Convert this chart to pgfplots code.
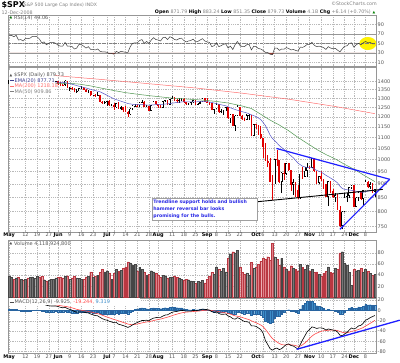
\documentclass[border=0pt]{standalone}
\usepackage{pgfplots}
\pgfplotsset{compat=1.18}
\usepackage{pgfplotstable}
\usepackage{fontspec}
\setmainfont{DejaVu Sans}

\definecolor{cred}{RGB}{225,0,0}
\definecolor{volred}{RGB}{224,130,138}
\definecolor{volredE}{RGB}{185,55,65}
\definecolor{volgray}{RGB}{118,118,118}
\definecolor{volgrayE}{RGB}{70,70,70}
\definecolor{emac}{RGB}{85,85,200}
\definecolor{mafc}{RGB}{80,150,80}
\definecolor{matc}{RGB}{255,110,110}
\definecolor{histblue}{RGB}{60,140,200}
\definecolor{histblueE}{RGB}{40,100,160}
\definecolor{sigred}{RGB}{255,70,70}
\definecolor{trendblue}{RGB}{30,30,255}
\definecolor{gridc}{RGB}{185,185,185}
\definecolor{framec}{RGB}{150,150,150}
\definecolor{labc}{RGB}{85,85,85}
\definecolor{rsifill}{RGB}{150,60,50}
\definecolor{rsiline}{RGB}{60,60,60}
\definecolor{boxblue}{RGB}{40,40,230}

\pgfplotstableread{
i o h l c v
0 1386 1411 1383 1409 38
1 1409 1422 1406 1414 36
2 1414 1415 1402 1407 33
3 1407 1421 1401 1418 35
4 1418 1420 1391 1393 36
5 1393 1404 1389 1398 33
6 1398 1398 1382 1388 31
7 1388 1404 1384 1404 33
8 1404 1410 1396 1403 35
9 1403 1420 1401 1409 36
10 1409 1425 1402 1424 37
11 1424 1429 1418 1425 34
12 1425 1440 1414 1427 38
13 1427 1427 1401 1413 37
14 1413 1419 1388 1391 38
15 1391 1400 1385 1394 32
16 1394 1394 1374 1376 30
17 1376 1387 1373 1385 31
18 1385 1393 1379 1391 33
19 1391 1406 1388 1398 33
20 1398 1404 1396 1400 35
21 1400 1400 1377 1386 36
22 1386 1394 1370 1378 37
23 1378 1386 1370 1377 35
24 1377 1405 1374 1404 38
25 1404 1404 1359 1361 39
26 1361 1366 1345 1362 33
27 1362 1366 1351 1358 35
28 1358 1361 1334 1335 38
29 1335 1353 1331 1340 35
30 1340 1361 1340 1360 34
31 1360 1370 1355 1360 33
32 1360 1367 1350 1351 33
33 1351 1354 1335 1338 37
34 1338 1348 1330 1343 38
35 1343 1343 1314 1318 46
36 1318 1322 1312 1318 36
37 1318 1326 1309 1314 38
38 1314 1336 1314 1322 40
39 1322 1322 1283 1283 45
40 1283 1288 1272 1278 50
41 1278 1285 1272 1280 46
42 1280 1285 1260 1285 48
43 1285 1292 1261 1262 44
44 1262 1272 1257 1263 33
45 1263 1273 1239 1252 43
46 1252 1274 1250 1274 50
47 1274 1278 1245 1245 47
48 1245 1257 1237 1253 49
49 1253 1254 1225 1239 52
50 1239 1257 1226 1228 55
51 1228 1234 1200 1215 64
52 1215 1246 1211 1245 62
53 1245 1263 1237 1260 58
54 1260 1268 1255 1261 60
55 1261 1267 1255 1260 48
56 1260 1280 1254 1277 54
57 1277 1291 1276 1282 50
58 1282 1284 1251 1253 46
59 1253 1263 1251 1258 40
60 1258 1260 1234 1234 42
61 1234 1264 1234 1263 48
62 1263 1285 1262 1284 46
63 1284 1284 1265 1267 44
64 1267 1270 1248 1260 40
65 1260 1263 1247 1249 36
66 1249 1285 1249 1285 40
67 1285 1292 1281 1289 38
68 1289 1290 1264 1266 35
69 1266 1297 1263 1296 36
70 1296 1314 1296 1305 37
71 1305 1306 1288 1290 38
72 1290 1295 1276 1286 36
73 1286 1300 1276 1293 35
74 1293 1300 1286 1298 33
75 1298 1304 1275 1279 31
76 1279 1281 1265 1267 33
77 1267 1277 1266 1275 32
78 1275 1281 1264 1278 30
79 1278 1293 1277 1292 29
80 1292 1292 1263 1267 25
81 1267 1275 1263 1272 29
82 1272 1286 1270 1282 28
83 1282 1301 1282 1301 31
84 1301 1301 1282 1283 26
85 1283 1303 1273 1278 33
86 1278 1281 1266 1275 38
87 1275 1275 1236 1237 45
88 1237 1244 1217 1242 42
89 1242 1275 1242 1268 55
90 1268 1268 1224 1225 50
91 1225 1243 1221 1232 47
92 1232 1249 1212 1249 52
93 1249 1255 1233 1252 46
94 1252 1252 1192 1193 70
95 1193 1214 1169 1214 78
96 1214 1214 1156 1156 82
97 1156 1211 1133 1207 80
98 1207 1265 1207 1255 85
99 1255 1255 1207 1207 55
100 1207 1211 1187 1188 45
101 1188 1197 1180 1186 42
102 1186 1216 1186 1209 44
103 1209 1215 1187 1213 40
104 1213 1213 1106 1106 63
105 1106 1167 1106 1166 52
106 1166 1167 1141 1161 55
107 1161 1161 1112 1114 60
108 1114 1153 1092 1099 65
109 1099 1099 1007 1057 70
110 1057 1072 996 996 68
111 996 1022 968 985 73
112 985 1006 909 910 67
113 910 936 840 899 97
114 899 1004 899 1003 72
115 1003 1044 972 998 68
116 998 998 903 908 58
117 908 947 866 946 70
118 946 984 918 941 55
119 941 985 938 985 50
120 985 985 952 955 48
121 955 955 875 897 57
122 897 922 858 908 52
123 908 908 853 877 51
124 877 896 845 849 48
125 849 941 845 941 60
126 941 969 922 930 54
127 930 970 930 954 50
128 954 984 928 969 58
129 969 975 959 966 48
130 966 1008 966 1006 50
131 1006 1006 949 953 45
132 953 953 899 905 46
133 905 931 899 931 42
134 931 951 913 919 38
135 919 919 883 899 43
136 899 899 852 852 47
137 852 913 819 911 55
138 911 911 866 873 45
139 873 882 848 851 44
140 851 866 835 859 52
141 859 864 806 807 50
142 807 820 748 752 80
143 752 801 741 800 82
144 800 865 800 852 62
145 852 868 834 857 58
146 857 888 848 888 45
147 888 896 882 896 22
148 896 896 815 816 50
149 816 850 816 849 48
150 849 875 837 871 49
151 871 875 840 845 52
152 845 879 818 876 45
153 876 918 876 910 50
154 910 912 884 889 47
155 889 908 883 899 43
156 899 904 866 874 40
157 872 883 851 880 41
}\spx

\pgfplotstableread{
i r
0 66
1 67
2 64
3 67
4 57
5 58
6 55
7 60
8 60
9 61
10 65
11 65
12 64
13 59
14 51
15 53
16 47
17 50
18 52
19 52
20 50
21 46
22 44
23 44
24 52
25 44
26 44
27 43
28 38
29 40
30 48
31 47
32 44
33 40
34 43
35 37
36 37
37 36
38 38
39 33
40 32
41 32
42 31
43 28
44 28.5
45 27
46 33
47 30.5
48 33
49 32
50 31
51 31
52 43
53 50
54 51
55 51
56 56
57 58
58 50
59 54
60 50
61 57
62 62
63 58
64 57
65 55
66 62
67 63
68 58
69 64
70 62
71 58
72 57
73 60
74 61
75 56
76 53
77 55
78 56
79 59
80 53
81 54
82 57
83 60
84 55
85 53
86 52
87 43
88 45
89 51
90 43
91 45
92 48
93 49
94 40
95 44
96 37
97 47
98 54
99 46
100 43
101 43
102 47
103 48
104 36
105 44
106 43
107 39
108 38
109 35
110 31
111 30.5
112 27
113 26
114 40
115 40
116 35
117 38
118 37.5
119 41
120 39
121 36
122 37
123 35
124 33.5
125 42
126 41.5
127 44
128 48
129 48
130 52
131 46
132 43
133 44
134 43
135 41
136 37
137 43
138 40
139 38.5
140 39.5
141 35.5
142 32
143 38
144 44
145 44.5
146 50
147 51
148 42
149 47
150 50
151 47
152 51
153 54
154 51
155 52
156 49
157 49.06
}\rsi

\pgfplotstableread{
i m s
0 17 15
1 17.5 15.5
2 17.5 15.9
3 18 16.3
4 16.5 16.3
5 15.5 16.2
6 14 15.7
7 14 15.4
8 14 15.1
9 14 14.9
10 15 14.9
11 15.5 15.0
12 16 15.2
13 15 15.2
14 13 14.8
15 12 14.2
16 10 13.4
17 9 12.5
18 8.5 11.7
19 8.5 11.1
20 8.5 10.6
21 7.5 10.0
22 6 9.2
23 5 8.4
24 6 7.9
25 3.5 7.0
26 2 6.0
27 0.5 4.9
28 -2 3.5
29 -3.5 2.1
30 -3 1.1
31 -3 0.3
32 -3.5 -0.5
33 -4.5 -1.3
34 -5 -2.0
35 -7 -3.0
36 -8.5 -4.1
37 -10 -5.3
38 -10.5 -6.3
39 -13.5 -7.7
40 -16 -9.4
41 -18 -11.1
42 -19 -12.7
43 -21 -14.4
44 -22.5 -16.0
45 -24 -17.6
46 -23.5 -18.8
47 -27 -20.4
48 -28 -21.9
49 -29.5 -23.4
50 -31 -24.9
51 -33 -26.5
52 -31 -27.4
53 -28 -27.5
54 -25.5 -27.1
55 -23.5 -26.4
56 -21.5 -25.4
57 -19.5 -24.2
58 -19.5 -23.3
59 -19 -22.4
60 -20 -21.9
61 -17 -20.9
62 -15 -19.7
63 -14 -18.6
64 -13.5 -17.6
65 -13.5 -16.8
66 -11 -15.6
67 -9 -14.3
68 -8.5 -13.1
69 -6 -11.7
70 -3.5 -10.1
71 -2.5 -8.6
72 -2 -7.3
73 -1 -6.0
74 0 -4.8
75 -0.5 -3.9
76 -1.5 -3.4
77 -1.5 -3.0
78 -1.5 -2.7
79 0 -2.2
80 -0.5 -1.8
81 0 -1.5
82 1 -1.0
83 2.5 -0.3
84 2 0.2
85 1.5 0.4
86 0.5 0.4
87 -2.5 -0.2
88 -4 -1.0
89 -3 -1.4
90 -6 -2.3
91 -7.5 -3.4
92 -7.5 -4.2
93 -7 -4.8
94 -11 -6.0
95 -12.5 -7.3
96 -16 -9.0
97 -17 -10.6
98 -14 -11.3
99 -16 -12.2
100 -19 -13.6
101 -21.5 -15.2
102 -22 -16.6
103 -23 -17.8
104 -30 -20.2
105 -30 -22.2
106 -31 -24.0
107 -34 -26.0
108 -37 -28.2
109 -44 -31.3
110 -58 -36.7
111 -66 -42.5
112 -74 -48.8
113 -77 -54.4
114 -74 -58.3
115 -73 -61.2
116 -76 -64.2
117 -74 -66.2
118 -70 -66.9
119 -66 -66.7
120 -65 -66.4
121 -68 -66.7
122 -69 -67.2
123 -72 -68.2
124 -75 -69.6
125 -66 -68.9
126 -57 -66.5
127 -49 -63.0
128 -41 -58.6
129 -37 -54.3
130 -32 -49.8
131 -33 -46.5
132 -35 -44.2
133 -34 -42.2
134 -34 -40.5
135 -35 -39.4
136 -38 -39.1
137 -36 -38.5
138 -37 -38.2
139 -38 -38.2
140 -39 -38.4
141 -42 -39.1
142 -48 -40.9
143 -49 -42.5
144 -46 -43.2
145 -43 -43.2
146 -38 -42.2
147 -34 -40.5
148 -36 -39.6
149 -34 -38.5
150 -30 -36.8
151 -29 -35.2
152 -25 -33.2
153 -19 -30.4
154 -17 -27.7
155 -14 -25.0
156 -12 -22.4
157 -9.925 -19.244
}\macd

\pgfplotstableread{
i e
0 1378
3 1385
6 1388
9 1392
12 1398
15 1398
18 1396
21 1394
24 1392
27 1382
30 1370
33 1360
36 1348
39 1338
42 1318
45 1298
48 1285
51 1272
54 1266
57 1266
60 1263
63 1266
66 1268
69 1272
72 1278
75 1282
78 1281
81 1282
84 1284
87 1278
90 1268
93 1260
96 1244
99 1232
102 1222
104 1212
106 1203
108 1188
110 1158
112 1112
113 1095
114 1085
116 1062
118 1045
120 1025
122 1008
124 985
126 972
128 966
130 966
132 955
134 948
136 935
138 924
140 912
141 905
142 892
143 884
144 880
146 878
148 875
150 871
152 869
154 874
156 876
157 877.7
}\ema

\pgfplotstableread{
i a
20 1385
25 1388
30 1383
35 1372
40 1358
45 1345
50 1333
55 1324
60 1316
65 1309
70 1302
75 1298
82 1292
88 1285
94 1275
100 1259
104 1245
108 1215
110 1200
112 1185
116 1160
120 1132
124 1100
128 1072
132 1045
136 1022
140 1003
144 980
148 960
152 937
157 910
}\mafifty

\pgfplotstableread{
i a
0 1452
20 1434
40 1410
60 1385
80 1360
100 1330
120 1296
140 1256
157 1218
}\matwo

% trend lines (price panel)
\pgfplotstableread{
i p
114.8 1049
163.4 919
}\trendA
\pgfplotstableread{
i p
142 741.8
163.4 919
}\trendB
\pgfplotstableread{
i p
106.4 834.6
160.4 880
}\trendC

\newcommand{\lab}{\fontsize{5}{6}\selectfont}
\pgfplotsset{
  panel/.style={
    scale only axis, width=368bp, xmin=-0.5, xmax=157.5,
    anchor=south west,
    axis line style={draw=framec, line width=0.5bp},
    major tick length=0pt, minor tick length=0pt,
    xtick={0,7,12,17,21,26,31,36,42,45,50,55,60,64,70,75,80,85,89,94,99,106,109,114,119,124,129,134,139,144,148,153},
    xticklabel={\mbox{}},
    xmajorgrids, ymajorgrids,
    grid style={gridc, line width=0.4bp, dash pattern=on 0.6bp off 1.2bp},
    yticklabel pos=right,
    yticklabel style={font=\lab, text=labc, inner sep=1.5bp},
    /pgf/number format/assume math mode=true,
  },
  datelabels/.style={
    xticklabels={\textcolor{black}{\textbf{May}},12,19,27,\textcolor{black}{\textbf{Jun}},9,16,23,\textcolor{black}{\textbf{Jul}},7,14,21,28,\textcolor{black}{\textbf{Aug}},11,18,25,\textcolor{black}{\textbf{Sep}},8,15,22,\textcolor{black}{\textbf{Oct}},6,13,20,27,\textcolor{black}{\textbf{Nov}},10,17,24,\textcolor{black}{\textbf{Dec}},8},
    xticklabel style={font=\lab, text=labc, inner sep=1bp},
  },
  redday/.style={x filter/.expression={\thisrow{c}<\thisrow{o} ? x : nan}},
  blackday/.style={x filter/.expression={\thisrow{c}<\thisrow{o} ? nan : x}},
  candle/.style={draw=none, mark=none, forget plot},
}

\begin{document}
\begin{tikzpicture}[x=1bp,y=1bp]
\path[use as bounding box] (0,0) rectangle (400,363);
\coordinate (rsiSW) at (8,297);
\coordinate (pxSW) at (8,131);
\coordinate (volSW) at (8,65.5);
\coordinate (macdSW) at (8,9.5);

% ---------- RSI ----------
\begin{axis}[panel, at={(rsiSW)}, height=51bp, ymin=2, ymax=110,
  ytick={10,30,50,70,90}, yticklabels={10,30,50,70,90}]
\fill[yellow] (axis cs:154,49.6) ellipse [x radius=8.5bp, y radius=6.5bp];
\draw[framec, line width=0.5bp] (axis cs:-0.5,70) -- (axis cs:157.5,70);
\draw[framec, line width=0.5bp] (axis cs:-0.5,30) -- (axis cs:157.5,30);
\draw[gray, line width=0.4bp, dash pattern=on 3bp off 1bp on 0.6bp off 1bp] (axis cs:-0.5,50) -- (axis cs:157.5,50);
\addplot[fill=rsifill, draw=none] table[x=i, y expr={min(\thisrow{r},30)}] {\rsi} -- (axis cs:157,30) -- (axis cs:0,30) -- cycle;
\addplot[rsiline, line width=0.5bp] table[x=i, y=r] {\rsi};
\end{axis}

% ---------- Price (log scale: y = ln(price)) ----------
\begin{axis}[panel, datelabels, at={(pxSW)}, height=165bp, ymin=6.59715, ymax=7.30519,
  ytick={6.62007,6.68461,6.74524,6.80239,6.85646,6.90776,6.95655,7.00307,7.04752,7.09008,7.13090,7.17012,7.20786,7.24423},
  yticklabels={750,800,850,900,950,1000,1050,1100,1150,1200,1250,1300,1350,1400},
  clip=false]
% wicks
\addplot[candle, redday,
  error bars/.cd, y dir=plus, y explicit, error mark=none,
  error bar style={draw=cred, line width=0.5bp}]
  table[x=i, y expr={ln(\thisrow{l})}, y error plus expr={ln(\thisrow{h})-ln(\thisrow{l})}] {\spx};
\addplot[candle, blackday,
  error bars/.cd, y dir=plus, y explicit, error mark=none,
  error bar style={draw=black, line width=0.5bp}]
  table[x=i, y expr={ln(\thisrow{l})}, y error plus expr={ln(\thisrow{h})-ln(\thisrow{l})}] {\spx};
% bodies: red filled
\addplot[candle, redday,
  error bars/.cd, y dir=plus, y explicit, error mark=none,
  error bar style={draw=cred, line width=1.7bp}]
  table[x=i, y expr={ln(\thisrow{c})}, y error plus expr={ln(\thisrow{o})-ln(\thisrow{c})}] {\spx};
% bodies: black hollow
\addplot[candle, blackday,
  error bars/.cd, y dir=plus, y explicit, error mark=none,
  error bar style={draw=black, line width=1.7bp}]
  table[x=i, y expr={ln(\thisrow{o})}, y error plus expr={ln(\thisrow{c})-ln(\thisrow{o})}] {\spx};
\addplot[candle,
  x filter/.expression={\thisrow{c}>\thisrow{o}*1.008 ? x : nan},
  error bars/.cd, y dir=plus, y explicit, error mark=none,
  error bar style={draw=white, line width=0.8bp}]
  table[x=i, y expr={ln(\thisrow{o})+0.003}, y error plus expr={ln(\thisrow{c})-ln(\thisrow{o})-0.006}] {\spx};
% moving averages
\addplot[matc, line width=0.5bp] table[x=i, y expr={ln(\thisrow{a})}] {\matwo};
\addplot[mafc, line width=0.5bp] table[x=i, y expr={ln(\thisrow{a})}] {\mafifty};
\addplot[emac, line width=0.5bp] table[x=i, y expr={ln(\thisrow{e})}] {\ema};
% trend lines
\addplot[trendblue, line width=1.2bp] table[x=i, y expr={ln(\thisrow{p})}] {\trendA};
\addplot[trendblue, line width=1.2bp] table[x=i, y expr={ln(\thisrow{p})}] {\trendB};
\addplot[black, line width=0.9bp] table[x=i, y expr={ln(\thisrow{p})}] {\trendC};
\end{axis}

% ---------- Volume ----------
\begin{axis}[panel, at={(volSW)}, height=57.5bp, ymin=0, ymax=103,
  ytick={20,40,60,80}, yticklabels={20,40,60,80}]
\addplot[ybar, bar shift=0pt, bar width=1.9bp, fill=volred, draw=volredE, line width=0.25bp, redday]
  table[x=i, y=v] {\spx};
\addplot[ybar, bar shift=0pt, bar width=1.9bp, fill=volgray, draw=volgrayE, line width=0.25bp, blackday]
  table[x=i, y=v] {\spx};
\end{axis}

% ---------- MACD ----------
\begin{axis}[panel, datelabels, at={(macdSW)}, height=55.5bp, ymin=-83.5, ymax=24,
  ytick={-80,-60,-40,-20,0,20}, yticklabels={-80,-60,-40,-20,0,20}, clip=false]
\addplot[ybar, bar shift=0pt, bar width=1.8bp, fill=histblue, draw=histblueE, line width=0.2bp]
  table[x=i, y expr={\thisrow{m}-\thisrow{s}}] {\macd};
\addplot[sigred, line width=0.6bp] table[x=i, y=s] {\macd};
\addplot[black, line width=0.6bp] table[x=i, y=m] {\macd};
\addplot[trendblue, line width=1.3bp] coordinates {(123.4,-75.4) (167.7,-19)};
\end{axis}

% ---------- header ----------
\node[anchor=west, font=\fontsize{8}{9}\selectfont\bfseries, inner sep=0] at (1.5,357.5) {\$SPX};
\node[anchor=west, font=\fontsize{4.6}{5}\selectfont, text=gray, inner sep=0] at (22,357.5) {(S\&P 500 Large Cap Index) INDX};
\node[anchor=west, font=\fontsize{4.8}{5}\selectfont, text=gray, inner sep=0] at (1.5,350.5) {12-Dec-2008};
\node[anchor=east, font=\fontsize{4.8}{5}\selectfont, text=gray, inner sep=0] at (371,350.5)
  {\textcolor{black}{\textbf{Open}} 871.79 \textcolor{black}{\textbf{High}} 883.24 \textcolor{black}{\textbf{Low}} 851.35 \textcolor{black}{\textbf{Close}} 879.73 \textcolor{black}{\textbf{Volume}} 4.1B \textcolor{black}{\textbf{Chg}} +6.14 (+0.70\%)};
\node[anchor=west, font=\fontsize{3.5}{4}\selectfont, text=green!50!black, inner sep=0] at (372.5,350.8) {▲};
\node[anchor=east, font=\fontsize{4.8}{5}\selectfont, text=gray, inner sep=0] at (377,359) {©StockCharts.com};

% RSI label
\node[anchor=west, font=\fontsize{3.5}{4}\selectfont, text=green!40!black, inner sep=0] at (9.5,345.5) {▲};
\node[anchor=west, font=\lab, text=labc, inner sep=0] at (14,345.5) {RSI(14) 49.06};

% price legend
\fill[white] (8.5,268) rectangle (55,292);
\node[anchor=west, font=\fontsize{3.5}{4}\selectfont, text=black!70, inner sep=0] at (9.5,287.5) {▲};
\node[anchor=west, font=\lab, text=labc, inner sep=0] at (14,287.5) {\$SPX (Daily) 879.73};
\draw[emac!70!black, line width=0.9bp] (9.5,282.3) -- (14,282.3);
\node[anchor=west, font=\lab, text=emac!70!black, inner sep=0] at (14.5,282.3) {EMA(20) 877.71};
\draw[matc, line width=0.9bp] (9.5,276.7) -- (14,276.7);
\node[anchor=west, font=\lab, text=matc, inner sep=0] at (14.5,276.7) {MA(200) 1218.18};
\draw[gray, line width=0.9bp] (9.5,271.3) -- (14,271.3);
\node[anchor=west, font=\lab, text=gray, inner sep=0] at (14.5,271.3) {MA(50) 909.86};

% volume label
\node[anchor=west, font=\fontsize{3.5}{4}\selectfont, text=black!70, inner sep=0] at (9.5,119) {▲};
\node[anchor=west, font=\lab, text=labc, inner sep=0] at (14,119) {Volume 4,118,924,800};

% MACD label
\fill[white] (8.5,57.5) rectangle (140,64.5);
\draw[black!70, line width=0.9bp] (9.5,61) -- (14,61);
\node[anchor=west, font=\lab, inner sep=0] at (14.5,61) {\textcolor{labc}{MACD(12,26,9) -9.925,} \textcolor{sigred}{-19.244,} \textcolor{histblue}{9.319}};

% annotation box
\fill[black!75] (152.9,141.8) rectangle (258.2,163.5);
\draw[fill=white, draw=gray!75, line width=0.4bp] (151.7,143) rectangle (257,164.7);
\node[anchor=north west, align=left, inner sep=0, font=\fontsize{4.7}{6.9}\selectfont\bfseries, text=boxblue] at (153.2,163.3)
  {Trendline support holds and bullish\\hammer reversal bar looks\\promising for the bulls.};
\end{tikzpicture}
\end{document}
